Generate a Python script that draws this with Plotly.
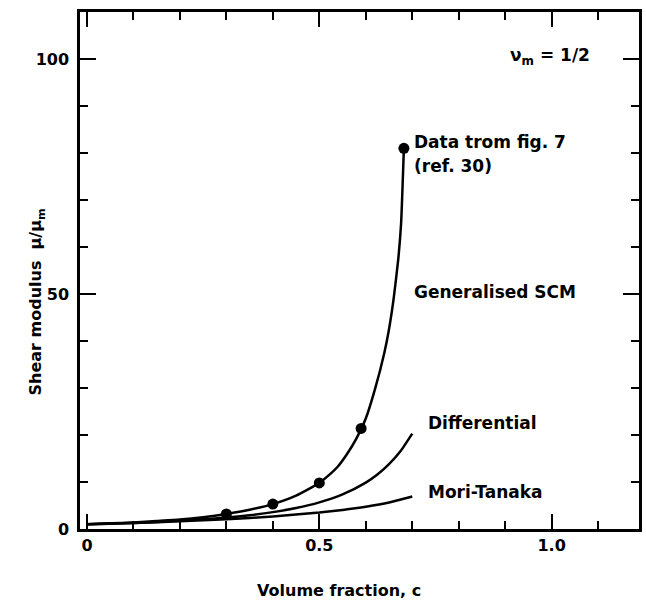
import plotly.graph_objects as go

# Generalised SCM curve
scm_x = [0.0, 0.05, 0.1, 0.15, 0.2, 0.25, 0.3, 0.35, 0.4, 0.45, 0.5, 0.52, 0.54, 0.56,
         0.58, 0.6, 0.62, 0.64, 0.65, 0.66, 0.67, 0.676, 0.682]
scm_y = [1.0, 1.2, 1.4, 1.7, 2.0, 2.5, 3.2, 4.1, 5.3, 7.1, 9.8, 11.4, 13.3, 16.0,
         19.3, 23.5, 29.8, 37.5, 42.5, 49.0, 57.5, 65.0, 81.0]

# Differential curve
diff_x = [0.0, 0.05, 0.1, 0.15, 0.2, 0.25, 0.3, 0.35, 0.4, 0.45, 0.5, 0.55, 0.6, 0.625, 0.65, 0.675, 0.7]
diff_y = [1.0, 1.14, 1.3, 1.5, 1.75, 2.05, 2.44, 2.94, 3.59, 4.46, 5.66, 7.36, 9.88, 11.6, 13.8, 16.6, 20.3]

# Mori-Tanaka curve
mt_x = [0.0, 0.1, 0.2, 0.3, 0.4, 0.5, 0.55, 0.6, 0.65, 0.7]
mt_y = [1.0, 1.28, 1.63, 2.07, 2.67, 3.5, 4.06, 4.75, 5.64, 6.9]

# Data from fig. 7 (ref. 30)
data_x = [0.3, 0.4, 0.5, 0.59, 0.682]
data_y = [3.2, 5.3, 9.8, 21.4, 81.0]

x_ticks = [0, 0.5, 1.0]
x_ticklabels = ["0", "0.5", "1.0"]
y_ticks = [0, 50, 100]
y_ticklabels = ["0", "50", "100"]

FONT = "DejaVu Sans"
TFONT = dict(family=FONT, size=17, color="black", weight="bold")
AFONT = dict(family=FONT, size=16, color="black", weight="bold")

fig = go.Figure()
for xs, ys in [(scm_x, scm_y), (diff_x, diff_y), (mt_x, mt_y)]:
    fig.add_trace(go.Scatter(x=xs, y=ys, mode="lines",
                             line=dict(color="black", width=2.5, shape="spline", smoothing=0.5)))
fig.add_trace(go.Scatter(x=data_x, y=data_y, mode="markers",
                         marker=dict(color="black", size=11, symbol="circle")))

labels = [
    (0.70, 82.3, "Data trom fig. 7"),
    (0.70, 77.2, "(ref. 30)"),
    (0.70, 50.5, "Generalised SCM"),
    (0.73, 22.5, "Differential"),
    (0.73, 7.8, "Mori-Tanaka"),
    (0.905, 100.5, "ν<sub>m</sub> = 1/2"),
]
annotations = []
for x, y, t in labels:
    annotations.append(dict(x=x, y=y, xref="x", yref="y", text=t, showarrow=False,
                            xanchor="left", yanchor="middle", font=TFONT))
annotations.append(dict(x=0.463, y=-0.118, xref="paper", yref="paper",
                        text="Volume fraction, c", showarrow=False,
                        xanchor="center", yanchor="middle", font=AFONT))
annotations.append(dict(x=-0.077, y=0.44, xref="paper", yref="paper",
                        text="Shear modulus  μ/μ<sub>m</sub>", showarrow=False, textangle=-90,
                        xanchor="center", yanchor="middle", font=AFONT))

fig.update_layout(
    width=646, height=600,
    margin=dict(l=80, r=4, t=12, b=71),
    paper_bgcolor="white", plot_bgcolor="white",
    showlegend=False,
    annotations=annotations,
    xaxis=dict(
        range=[-0.015, 1.188], showgrid=False, zeroline=False,
        showline=True, linecolor="black", linewidth=2.5, mirror="ticks",
        ticks="inside", ticklen=15, tickwidth=2, tickcolor="black",
        tickvals=x_ticks, ticktext=x_ticklabels,
        tickfont=AFONT,
        minor=dict(dtick=0.1, tick0=0, ticks="inside", ticklen=8, tickwidth=2, tickcolor="black"),
    ),
    yaxis=dict(
        range=[0, 110], showgrid=False, zeroline=False,
        showline=True, linecolor="black", linewidth=2.5, mirror="ticks",
        ticks="inside", ticklen=16, tickwidth=2, tickcolor="black",
        tickvals=y_ticks, ticktext=y_ticklabels,
        tickfont=AFONT, ticklabelstandoff=5,
        minor=dict(dtick=10, tick0=0, ticks="inside", ticklen=8, tickwidth=2, tickcolor="black"),
    ),
)

fig.write_html("out.html")
